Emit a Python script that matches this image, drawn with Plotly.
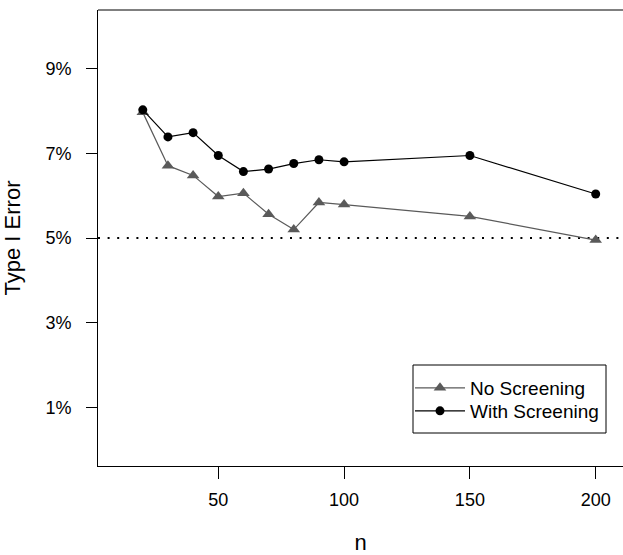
import plotly.graph_objects as go

n_values = [20, 30, 40, 50, 60, 70, 80, 90, 100, 150, 200]
no_screening = [0.0797, 0.0671, 0.0648, 0.0598, 0.0606, 0.0556, 0.0520, 0.0584, 0.0579, 0.0551, 0.0495]
with_screening = [0.0803, 0.0739, 0.0749, 0.0695, 0.0657, 0.0663, 0.0676, 0.0685, 0.0680, 0.0695, 0.0604]

x_ticks = [50, 100, 150, 200]
y_ticks = [0.01, 0.03, 0.05, 0.07, 0.09]
nominal = 0.05

FONT = "Liberation Sans, Arial, sans-serif"

# plot area in pixels: x 98..623, y 10..466
PW, PH = 525.0, 456.0
def px(x):
    return (x - 98) / PW
def py(y):
    return (466 - y) / PH

fig = go.Figure()
fig.add_trace(go.Scatter(
    x=n_values, y=no_screening, mode="lines+markers", name="No Screening",
    line=dict(color="#5a5a5a", width=1.2),
    marker=dict(symbol="triangle-up", size=11, color="#5a5a5a"),
    legend="legend",
))
fig.add_trace(go.Scatter(
    x=n_values, y=with_screening, mode="lines+markers", name="With Screening",
    line=dict(color="#000000", width=1.2),
    marker=dict(symbol="circle", size=9, color="#000000"),
    legend="legend2",
))

fig.add_shape(type="line", xref="paper", x0=0, x1=1, yref="y", y0=nominal, y1=nominal,
              line=dict(color="black", width=2, dash="2px,7.6px"), layer="below")
fig.add_shape(type="line", xref="paper", x0=0, x1=1, yref="paper", y0=1, y1=1,
              line=dict(color="black", width=1))
# legend frame
fig.add_shape(type="rect", xref="paper", yref="paper",
              x0=px(413), x1=px(606), y0=py(433), y1=py(365),
              line=dict(color="black", width=1), fillcolor="rgba(0,0,0,0)")

leg_common = dict(xanchor="left", yanchor="middle", borderwidth=0,
                  bgcolor="rgba(0,0,0,0)", font=dict(size=19), itemwidth=50)

fig.update_layout(
    width=623, height=555,
    margin=dict(l=98, r=0, t=10, b=89),
    paper_bgcolor="white", plot_bgcolor="white",
    font=dict(family=FONT, size=18, color="black"),
    showlegend=True,
    legend=dict(x=px(410), y=py(388), **leg_common),
    legend2=dict(x=px(410), y=py(411), **leg_common),
    xaxis=dict(
        range=[2.2, 210.85], tickvals=x_ticks, ticktext=[str(v) for v in x_ticks],
        showgrid=False, zeroline=False, showline=True, linecolor="black", linewidth=1,
        ticks="outside", ticklen=12, tickcolor="black", tickwidth=1,
        title=dict(text="n", standoff=46), ticklabelstandoff=5, automargin=False,
    ),
    yaxis=dict(
        range=[-0.0039, 0.1039], tickvals=y_ticks, tickformat=".0%",
        showgrid=False, zeroline=False, showline=True, linecolor="black", linewidth=1,
        ticks="outside", ticklen=11, tickcolor="black", tickwidth=1,
        title=dict(text="Type I Error", standoff=18), ticklabelstandoff=11, automargin=False,
    ),
)

fig.write_html("out.html")
